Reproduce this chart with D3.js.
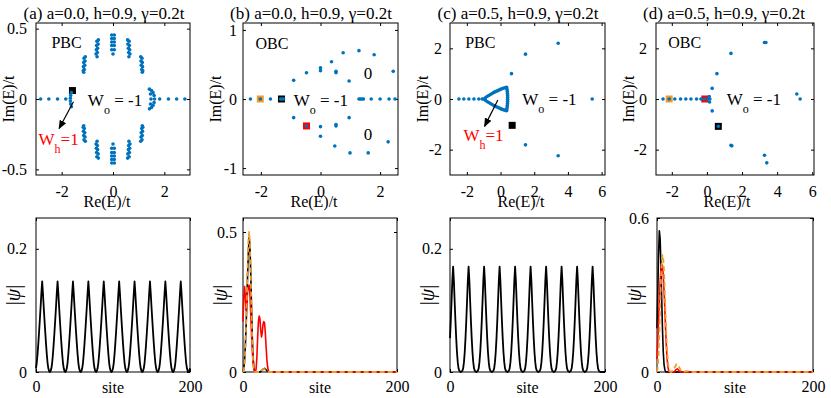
<!DOCTYPE html>
<html>
<head>
<meta charset="utf-8">
<script src="https://cdn.jsdelivr.net/npm/d3@7"></script>
<style>
body { margin: 0; background: #fff; }
text { font-family: "Liberation Serif", "Times New Roman", serif; }
</style>
</head>
<body>
<script>
// ---- spectra, [Re(E), Im(E)] ----
var specA = [
  [-2.82,0],[-2.5,0],[-2.16,0],[-1.84,0],[1.82,0],[2.16,0],[2.48,0],[2.8,0],
  [-1.62,0.045],[-1.65,0.025],[-1.66,0.005],[-1.66,-0.015],[-1.65,-0.035],[-1.62,-0.055],
  [1.42,0.07],[1.5,0.06],[1.56,0.045],[1.6,0.025],[1.62,0],[1.6,-0.025],[1.56,-0.045],[1.5,-0.06],[1.42,-0.07],[1.46,0.035],[1.48,0],[1.46,-0.035],
  [-0.05,0.455],[0.05,0.455],[-0.05,0.43],[0.05,0.43],[-0.05,0.405],[0.05,0.405],[-0.05,0.38],[0.05,0.38],[-0.05,0.35],[0.05,0.35],[0,0.32],
  [-0.57,0.42],[-0.63,0.41],[-0.58,0.39],[-0.64,0.38],[-0.6,0.36],[-0.65,0.35],[-0.61,0.33],[-0.66,0.32],[-0.62,0.3],
  [0.57,0.42],[0.63,0.41],[0.58,0.39],[0.64,0.38],[0.6,0.36],[0.65,0.35],[0.61,0.33],[0.66,0.32],[0.62,0.3],
  [-1.08,0.3],[-1.13,0.29],[-1.09,0.27],[-1.14,0.26],[-1.1,0.24],[-1.15,0.23],[-1.12,0.21],[-1.16,0.2],[-1.14,0.19],
  [1.08,0.3],[1.13,0.29],[1.09,0.27],[1.14,0.26],[1.1,0.24],[1.15,0.23],[1.12,0.21],[1.16,0.2],[1.14,0.19],
  [-0.05,-0.455],[0.05,-0.455],[-0.05,-0.43],[0.05,-0.43],[-0.05,-0.405],[0.05,-0.405],[-0.05,-0.38],[0.05,-0.38],[-0.05,-0.35],[0.05,-0.35],[0,-0.32],
  [-0.57,-0.42],[-0.63,-0.41],[-0.58,-0.39],[-0.64,-0.38],[-0.6,-0.36],[-0.65,-0.35],[-0.61,-0.33],[-0.66,-0.32],[-0.62,-0.3],
  [0.57,-0.42],[0.63,-0.41],[0.58,-0.39],[0.64,-0.38],[0.6,-0.36],[0.65,-0.35],[0.61,-0.33],[0.66,-0.32],[0.62,-0.3],
  [-1.08,-0.3],[-1.13,-0.29],[-1.09,-0.27],[-1.14,-0.26],[-1.1,-0.24],[-1.15,-0.23],[-1.12,-0.21],[-1.16,-0.2],[-1.14,-0.19],
  [1.08,-0.3],[1.13,-0.29],[1.09,-0.27],[1.14,-0.26],[1.1,-0.24],[1.15,-0.23],[1.12,-0.21],[1.16,-0.2],[1.14,-0.19]
];
var specB = [
  [-2.35,0],[-2.02,0],[-1.68,0],[-1.34,0],[-1.29,0],[-1.24,0],
  [-0.9,0.27],[-0.47,0.38],[0.0,0.45],[0.0,0.41],[0.37,0.54],[0.52,0.38],[0.52,0.4],[0.76,0.67],[0.96,0.26],[1.29,0.7],[1.8,0.64],[2.44,0.4],
  [-0.9,-0.27],[-0.47,-0.39],[0.0,-0.4],[0.0,-0.54],[0.52,-0.37],[0.52,-0.39],[0.48,-0.68],[0.96,-0.27],[0.99,-0.78],[1.6,-0.78],[2.27,-0.62],
  [1.29,0],[1.34,0],[1.39,0],[1.44,0],[1.7,0],[2.0,0],[2.3,0],[2.5,0]
];
var specC = [
  [-2.47,0],[-2.18,0],[-1.88,0],[-1.58,0],[-1.29,0],[-1.09,0],
  [-1.0,0],[-0.9,0.05],[-0.8,0.1],[-0.7,0.14],[-0.6,0.18],[-0.5,0.22],[-0.4,0.26],[-0.3,0.29],[-0.2,0.32],[-0.1,0.35],[0.0,0.38],[0.1,0.41],[0.2,0.43],[0.3,0.45],[0.36,0.46],
  [0.38,0.38],[0.4,0.3],[0.41,0.22],[0.42,0.14],[0.42,0.06],[0.42,-0.02],[0.42,-0.1],[0.41,-0.18],[0.4,-0.26],[0.39,-0.34],[0.37,-0.42],[0.36,-0.46],
  [0.3,-0.45],[0.2,-0.43],[0.1,-0.41],[0.0,-0.38],[-0.1,-0.35],[-0.2,-0.32],[-0.3,-0.29],[-0.4,-0.26],[-0.5,-0.22],[-0.6,-0.18],[-0.7,-0.14],[-0.8,-0.1],[-0.9,-0.05],
  [0.65,1.0],[1.48,1.77],[3.42,2.2],[1.48,-1.81],[3.42,-2.24],[5.44,0]
];
var specD = [
  [-2.5,0],[-2.15,0],[-1.83,0],[-1.5,0],[-1.2,0],[-0.91,0],[-0.59,0],[-0.34,0],[-0.15,0],[0.07,0],[0.17,0],
  [0.13,0.1],[0.15,-0.12],[0.3,0.42],[0.3,-0.47],[0.57,1.0],[1.37,1.8],[3.28,2.23],[3.36,2.23],
  [1.37,-1.83],[1.42,-1.85],[3.28,-2.22],[3.41,-2.52],[5.12,0.2],[5.31,0],[0.65,-1.08]
];

// chosen eigenstates (squares): [Re, Im, colour]
var marksA = [[-1.58, 0.06, "black"]];
var marksB = [[-2.02, 0, "orange"], [-1.31, 0, "black"], [-0.47, -0.39, "red"]];
var marksC = [[0.69, -1.04, "black"]];
var marksD = [[-2.15, 0, "orange"], [-0.12, 0, "red"], [0.65, -1.08, "black"]];

// ---- |psi| versus site ----
var psiA = [
  .006,.015,.029,.046,.065,.085,.106,.128,.147,.128,.106,.085,.065,.046,.029,.015,.006,.0015,0,.0015,
  .006,.015,.029,.046,.065,.085,.106,.128,.147,.128,.106,.085,.065,.046,.029,.015,.006,.0015,0,.0015,
  .006,.015,.029,.046,.065,.085,.106,.128,.147,.128,.106,.085,.065,.046,.029,.015,.006,.0015,0,.0015,
  .006,.015,.029,.046,.065,.085,.106,.128,.147,.128,.106,.085,.065,.046,.029,.015,.006,.0015,0,.0015,
  .006,.015,.029,.046,.065,.085,.106,.128,.147,.128,.106,.085,.065,.046,.029,.015,.006,.0015,0,.0015,
  .006,.015,.029,.046,.065,.085,.106,.128,.147,.128,.106,.085,.065,.046,.029,.015,.006,.0015,0,.0015,
  .006,.015,.029,.046,.065,.085,.106,.128,.147,.128,.106,.085,.065,.046,.029,.015,.006,.0015,0,.0015,
  .006,.015,.029,.046,.065,.085,.106,.128,.147,.128,.106,.085,.065,.046,.029,.015,.006,.0015,0,.0015,
  .006,.015,.029,.046,.065,.085,.106,.128,.147,.128,.106,.085,.065,.046,.029,.015,.006,.0015,0,.0015,
  .006,.015,.029,.046,.065,.085,.106,.128,.147,.128,.106,.085,.065,.046,.029,.015,.006,.0015,0,.0015,
  .006
];
var psiC = [
  .055,.083,.115,.148,.171,.148,.115,.083,.055,.032,.016,.006,.002,.001,0,.001,.002,.006,.016,.032,
  .055,.083,.115,.148,.171,.148,.115,.083,.055,.032,.016,.006,.002,.001,0,.001,.002,.006,.016,.032,
  .055,.083,.115,.148,.171,.148,.115,.083,.055,.032,.016,.006,.002,.001,0,.001,.002,.006,.016,.032,
  .055,.083,.115,.148,.171,.148,.115,.083,.055,.032,.016,.006,.002,.001,0,.001,.002,.006,.016,.032,
  .055,.083,.115,.148,.171,.148,.115,.083,.055,.032,.016,.006,.002,.001,0,.001,.002,.006,.016,.032,
  .055,.083,.115,.148,.171,.148,.115,.083,.055,.032,.016,.006,.002,.001,0,.001,.002,.006,.016,.032,
  .055,.083,.115,.148,.171,.148,.115,.083,.055,.032,.016,.006,.002,.001,0,.001,.002,.006,.016,.032,
  .055,.083,.115,.148,.171,.148,.115,.083,.055,.032,.016,.006,.002,.001,0,.001,.002,.006,.016,.032,
  .055,.083,.115,.148,.171,.148,.115,.083,.055,.032,.016,.006,.002,.001,0,.001,.002,.006,.016,.032,
  .055,.083,.115,.148,.171,.148,.115,.083,.055,.032,.016,.006,.002,.001,0,0,0,0,0,0,
  0
];
// OBC states, [site, |psi|]
var blackB = [[0,0],[1,.01],[2,.04],[3,.09],[4,.16],[5,.25],[6,.35],[7,.43],[8,.48],[9,.45],[10,.36],[11,.24],[12,.13],[13,.06],[14,.02],[15,.005],[16,0],[22,0],[24,.004],[26,.01],[28,.013],[30,.008],[32,.002],[34,0],[200,0]];
var orangeB = [[0,0],[1,.005],[2,.03],[3,.08],[4,.16],[5,.27],[6,.38],[7,.47],[8,.5],[9,.46],[10,.35],[11,.22],[12,.11],[13,.04],[14,.01],[15,0],[23,0],[25,.006],[27,.011],[29,.009],[31,.003],[33,0],[200,0]];
var redB = [[0,.18],[1,.27],[2,.305],[3,.27],[4,.22],[5,.24],[6,.29],[7,.305],[8,.31],[9,.28],[10,.21],[11,.14],[12,.08],[13,.035],[14,.012],[15,.003],[16,0],[17,.01],[18,.05],[19,.12],[20,.18],[21,.2],[22,.19],[23,.15],[24,.125],[25,.14],[26,.17],[27,.18],[28,.175],[29,.14],[30,.09],[31,.045],[32,.018],[33,.005],[34,0],[200,0]];
var blackD = [[0,.17],[1,.31],[2,.46],[3,.55],[4,.52],[5,.42],[6,.29],[7,.17],[8,.08],[9,.03],[10,.01],[11,.002],[12,0],[200,0]];
var orangeD = [[0,0],[1,.02],[2,.07],[3,.15],[4,.25],[5,.35],[6,.42],[7,.455],[8,.44],[9,.39],[10,.31],[11,.22],[12,.14],[13,.08],[14,.04],[15,.015],[16,.005],[18,0],[21,.006],[23,.02],[25,.03],[27,.028],[29,.015],[31,.004],[33,0],[37,.003],[40,.003],[43,0],[200,0]];
var redD = [[0,.05],[1,.12],[2,.2],[3,.28],[4,.35],[5,.4],[6,.42],[7,.415],[8,.38],[9,.32],[10,.25],[11,.17],[12,.1],[13,.05],[14,.02],[15,.005],[16,0],[22,0],[24,.008],[26,.012],[28,.006],[30,0],[200,0]];

var titles = ["(a) a=0.0, h=0.9, \u03b3=0.2t", "(b) a=0.0, h=0.9, \u03b3=0.2t",
              "(c) a=0.5, h=0.9, \u03b3=0.2t", "(d) a=0.5, h=0.9, \u03b3=0.2t"];

var blue = "#0072BD";
var colors = {black: "#000000", orange: "#EE9B2A", red: "#FF0000"};

var svg = d3.select("body").append("svg")
    .attr("width", 831).attr("height", 398);

svg.append("defs").append("marker")
    .attr("id", "head").attr("viewBox", "0 0 10 10")
    .attr("refX", 9).attr("refY", 5)
    .attr("markerWidth", 9).attr("markerHeight", 9)
    .attr("markerUnits", "userSpaceOnUse")
    .attr("orient", "auto")
  .append("path").attr("d", "M0,1 L10,5 L0,9 z").attr("fill", "#000");

function makeAxes(p) {
  var x = d3.scaleLinear().domain(p.xd).range([p.l, p.r]);
  var y = d3.scaleLinear().domain(p.yd).range([p.b, p.t]);
  var g = svg.append("g");
  var fmt = function(d) { return String(d); };
  g.append("g").attr("transform", "translate(0," + p.b + ")")
    .call(d3.axisBottom(x).tickValues(p.xt).tickSizeInner(-3).tickSizeOuter(0).tickPadding(p.xpad).tickFormat(fmt));
  g.append("g").attr("transform", "translate(0," + p.t + ")")
    .call(d3.axisTop(x).tickValues(p.xt).tickSizeInner(-3).tickSizeOuter(0).tickFormat(""));
  g.append("g").attr("transform", "translate(" + p.l + ",0)")
    .call(d3.axisLeft(y).tickValues(p.yt).tickSizeInner(-3).tickSizeOuter(0).tickPadding(p.ypad).tickFormat(fmt));
  g.append("g").attr("transform", "translate(" + p.r + ",0)")
    .call(d3.axisRight(y).tickValues(p.yt).tickSizeInner(-3).tickSizeOuter(0).tickFormat(""));
  g.selectAll(".domain").remove();
  g.selectAll(".tick line").attr("stroke", "#000");
  g.selectAll(".tick text").attr("font-size", 16)
    .attr("font-family", "Liberation Serif, Times New Roman, serif").attr("fill", "#000");
  var plot = svg.append("g");
  return {x: x, y: y, p: p, plot: plot};
}

function box(a, parent) {
  var p = a.p;
  (parent || svg).append("rect").attr("x", p.l).attr("y", p.t)
    .attr("width", p.r - p.l).attr("height", p.b - p.t)
    .attr("fill", "none").attr("stroke", "#000").attr("stroke-width", 1);
}

function vLabel(x, y, size) {
  return svg.append("text").attr("transform", "translate(" + x + "," + y + ") rotate(-90)")
    .attr("text-anchor", "middle").attr("font-size", size || 16);
}

function wLabel(a, re, im, sub, rest, color) {
  var t = a.plot.append("text").attr("x", a.x(re)).attr("y", a.y(im))
    .attr("font-size", 17).attr("fill", color);
  t.append("tspan").text("W");
  t.append("tspan").attr("dy", 8).attr("font-size", 12).text(sub);
  t.append("tspan").attr("dy", -8).text(rest);
}

function spectrum(a, pts, marks, i) {
  a.plot.selectAll(".sq").data(marks).enter().append("rect")
    .attr("x", function(d) { return a.x(d[0]) - 3.5; })
    .attr("y", function(d) { return a.y(d[1]) - 3.5; })
    .attr("width", 7).attr("height", 7)
    .attr("fill", function(d) { return colors[d[2]]; });
  a.plot.selectAll(".pt").data(pts).enter().append("circle")
    .attr("cx", function(d) { return a.x(d[0]); })
    .attr("cy", function(d) { return a.y(d[1]); })
    .attr("r", 1.8).attr("fill", blue);
  box(a);
  svg.append("text").attr("x", a.p.l + 68).attr("y", 19)
    .attr("text-anchor", "middle").attr("font-size", 17).text(titles[i]);
  svg.append("text").attr("x", a.p.l + 71).attr("y", 207)
    .attr("text-anchor", "middle").attr("font-size", 16).text("Re(E)/t");
  vLabel(a.p.l - 22, (a.p.t + a.p.b) / 2).text("Im(E)/t");
}

function wave(a, lines) {
  // box first so the curves lying on zero stay visible
  box(a, a.plot);
  lines.forEach(function(ln) {
    var line = d3.line()
      .x(function(d, j) { return a.x(ln.pairs ? d[0] : j); })
      .y(function(d) { return a.y(ln.pairs ? d[1] : d); });
    a.plot.append("path").datum(ln.data)
      .attr("d", line).attr("fill", "none")
      .attr("stroke", ln.color).attr("stroke-width", ln.w)
      .attr("stroke-dasharray", ln.dash || null)
      .attr("stroke-linejoin", "round");
  });
  svg.append("text").attr("x", (a.p.l + a.p.r) / 2).attr("y", 393)
    .attr("text-anchor", "middle").attr("font-size", 16).text("site");
  var t = vLabel(a.p.l - 16, (a.p.t + a.p.b) / 2, 20);
  t.append("tspan").text("|");
  t.append("tspan").attr("font-style", "italic").text("\u03c8");
  t.append("tspan").text("|");
}

var topRow = {t: 23, b: 175, xpad: 11};
var botRow = {t: 218, b: 372, xpad: 9, xd: [0, 200], xt: [0, 200]};

// top row: spectra
var aA = makeAxes(Object.assign({l: 36, r: 190, xd: [-3, 3], yd: [-0.54, 0.54], xt: [-2, 0, 2], yt: [-0.5, 0, 0.5], ypad: 9}, topRow));
spectrum(aA, specA, marksA, 0);
var aB = makeAxes(Object.assign({l: 243, r: 398, xd: [-2.6, 2.6], yd: [-1.1, 1.1], xt: [-2, 0, 2], yt: [-1, 0, 1], ypad: 6}, topRow));
spectrum(aB, specB, marksB, 1);
var aC = makeAxes(Object.assign({l: 450, r: 605, xd: [-3, 6.2], yd: [-3, 3], xt: [-2, 0, 2, 4, 6], yt: [-2, 0, 2], ypad: 8}, topRow));
spectrum(aC, specC, marksC, 2);
var aD = makeAxes(Object.assign({l: 656, r: 814, xd: [-2.9, 6.1], yd: [-3, 3], xt: [-2, 0, 2, 4, 6], yt: [-2, 0, 2], ypad: 9}, topRow));
spectrum(aD, specD, marksD, 3);

// annotations
function note(a, re, im, txt, size) {
  a.plot.append("text").attr("x", a.x(re)).attr("y", a.y(im)).attr("font-size", size || 16).text(txt);
}
note(aA, -2.4, 0.36, "PBC");
note(aB, -2.18, 0.73, "OBC");
note(aC, -2.1, 2.0, "PBC");
note(aD, -2.2, 2.0, "OBC");
note(aB, 1.45, 0.29, "0", 17);
note(aB, 1.45, -0.59, "0", 17);
wLabel(aA, -0.98, -0.05, "o", " = -1", "#000");
wLabel(aB, -0.9, -0.1, "o", " = -1", "#000");
wLabel(aC, 1.29, -0.23, "o", " = -1", "#000");
wLabel(aD, 1.13, -0.23, "o", " = -1", "#000");
wLabel(aA, -2.9, -0.33, "h", "=1", "#FF0000");
wLabel(aC, -2.2, -1.66, "h", "=1", "#FF0000");

aA.plot.append("line")
  .attr("x1", aA.x(-1.54)).attr("y1", aA.y(-0.02)).attr("x2", aA.x(-2.1)).attr("y2", aA.y(-0.21))
  .attr("stroke", "#000").attr("stroke-width", 1.2).attr("marker-end", "url(#head)");
aC.plot.append("line")
  .attr("x1", aC.x(-0.16)).attr("y1", aC.y(-0.04)).attr("x2", aC.x(-0.95)).attr("y2", aC.y(-1.08))
  .attr("stroke", "#000").attr("stroke-width", 1.2).attr("marker-end", "url(#head)");

// bottom row: wavefunctions
var bA = makeAxes(Object.assign({l: 36, r: 190, yd: [0, 0.25], yt: [0, 0.2], ypad: 9}, botRow));
wave(bA, [{data: psiA, color: "#000", w: 1.8}]);
var bB = makeAxes(Object.assign({l: 243, r: 397, yd: [0, 0.55], yt: [0, 0.5], ypad: 6}, botRow));
wave(bB, [
  {data: blackB, pairs: true, color: "#000", w: 1.6},
  {data: redB, pairs: true, color: colors.red, w: 1.6},
  {data: orangeB, pairs: true, color: colors.orange, w: 1.8, dash: "5,3"}
]);
var bC = makeAxes(Object.assign({l: 450, r: 605, yd: [0, 0.25], yt: [0, 0.2], ypad: 8}, botRow));
wave(bC, [{data: psiC, color: "#000", w: 1.8}]);
var bD = makeAxes(Object.assign({l: 657, r: 813, yd: [0, 0.6], yt: [0, 0.6], ypad: 8}, botRow));
wave(bD, [
  {data: blackD, pairs: true, color: "#000", w: 1.6},
  {data: redD, pairs: true, color: colors.red, w: 1.6},
  {data: orangeD, pairs: true, color: colors.orange, w: 1.8, dash: "5,3"}
]);
</script>
</body>
</html>
